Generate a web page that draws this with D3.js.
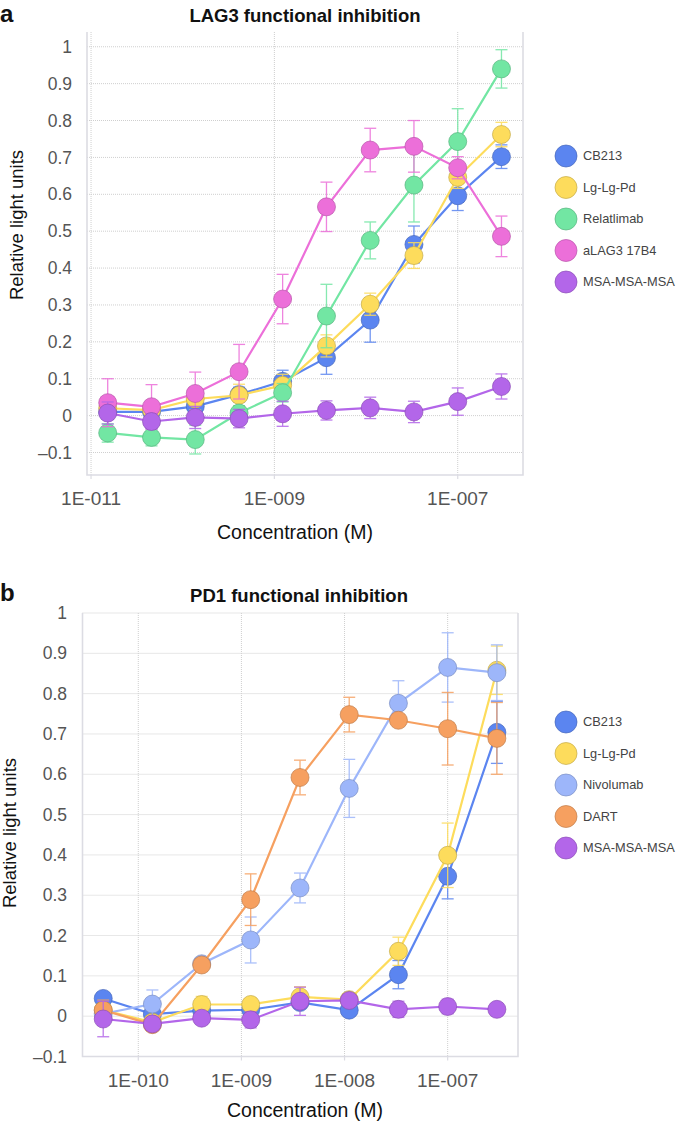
<!DOCTYPE html>
<html>
<head>
<meta charset="utf-8">
<script src="https://cdn.jsdelivr.net/npm/d3@7"></script>
<style>
  body { margin: 0; background: #fff; }
  svg { font-family: "Liberation Sans", Arial, sans-serif; }
</style>
</head>
<body>
<svg width="685" height="1121"></svg>
<script>
/* concentrations (M) */
let concA = [1.52e-11, 4.57e-11, 1.37e-10, 4.12e-10, 1.23e-9, 3.70e-9, 1.11e-8, 3.33e-8, 1.0e-7, 3.0e-7];
let concB = [4.57e-11, 1.37e-10, 4.12e-10, 1.23e-9, 3.70e-9, 1.11e-8, 3.33e-8, 1.0e-7, 3.0e-7];

/* panel a - LAG3 */
let namesA = ["CB213", "Lg-Lg-Pd", "Relatlimab", "aLAG3 17B4", "MSA-MSA-MSA"];
let colorsA = ["#5b85f0", "#fddc5c", "#72e6a3", "#ec6fd9", "#b366e9"];
let cb213A = [0.01, 0.01, 0.025, 0.057, 0.093, 0.157, 0.259, 0.464, 0.596, 0.702];
let cb213AErr = [0.02, 0.02, 0.02, 0.02, 0.03, 0.045, 0.06, 0.05, 0.04, 0.032];
let lgA = [0.02, 0.015, 0.045, 0.055, 0.082, 0.189, 0.302, 0.434, 0.646, 0.762];
let lgAErr = [0.02, 0.02, 0.03, 0.03, 0.03, 0.03, 0.03, 0.035, 0.03, 0.033];
let relatA = [-0.047, -0.059, -0.065, 0.007, 0.062, 0.27, 0.475, 0.625, 0.743, 0.94];
let relatAErr = [0.025, 0.023, 0.039, 0.02, 0.025, 0.086, 0.05, 0.1, 0.089, 0.052];
let alag3A = [0.035, 0.024, 0.06, 0.119, 0.316, 0.566, 0.72, 0.73, 0.672, 0.486];
let alag3AErr = [0.065, 0.06, 0.058, 0.074, 0.067, 0.067, 0.059, 0.07, 0.03, 0.055];
let msaA = [0.007, -0.016, -0.005, -0.008, 0.005, 0.014, 0.021, 0.01, 0.038, 0.079];
let msaAErr = [0.03, 0.02, 0.03, 0.025, 0.034, 0.026, 0.029, 0.029, 0.037, 0.034];
let xTicksA = [1e-11, 1e-9, 1e-7];
let xTickLabelsA = ["1E-011", "1E-009", "1E-007"];

/* panel b - PD1 */
let namesB = ["CB213", "Lg-Lg-Pd", "Nivolumab", "DART", "MSA-MSA-MSA"];
let colorsB = ["#5b85f0", "#fddc5c", "#9db6fa", "#f6a060", "#b366e9"];
let cb213B = [0.044, 0.005, 0.014, 0.016, 0.034, 0.015, 0.103, 0.347, 0.704];
let cb213BErr = [0.01, 0.01, 0.01, 0.01, 0.01, 0.01, 0.035, 0.056, 0.077];
let lgB = [0.015, -0.015, 0.029, 0.029, 0.048, 0.041, 0.161, 0.399, 0.858];
let lgBErr = [0.01, 0.01, 0.02, 0.015, 0.025, 0.01, 0.035, 0.08, 0.06];
let nivoB = [0.006, 0.03, 0.13, 0.189, 0.318, 0.565, 0.776, 0.865, 0.852];
let nivoBErr = [0.01, 0.035, 0.01, 0.057, 0.037, 0.072, 0.056, 0.086, 0.069];
let dartB = [0.015, -0.021, 0.127, 0.289, 0.592, 0.748, 0.734, 0.713, 0.689];
let dartBErr = [0.025, 0.015, 0.01, 0.064, 0.043, 0.043, 0.01, 0.09, 0.089];
let msaB = [-0.007, -0.019, -0.005, -0.009, 0.037, 0.039, 0.017, 0.024, 0.017];
let msaBErr = [0.044, 0.015, 0.015, 0.02, 0.035, 0.01, 0.02, 0.018, 0.015];
let xTicksB = [1e-10, 1e-9, 1e-8, 1e-7];
let xTickLabelsB = ["1E-010", "1E-009", "1E-008", "1E-007"];

let yTicks = [-0.1, 0, 0.1, 0.2, 0.3, 0.4, 0.5, 0.6, 0.7, 0.8, 0.9, 1];

let svg = d3.select("svg");

function draw_panel(cfg) {
    let x = d3.scaleLog().domain(cfg.xDomain).range([cfg.left, cfg.right]);
    let y = d3.scaleLinear().domain(cfg.yDomain).range([cfg.bottom, cfg.top]);
    let g = svg.append("g");

    // panel letter + title
    g.append("text").attr("x", 0).attr("y", cfg.letterY).attr("font-size", 24)
        .attr("font-weight", "bold").attr("fill", "#111").text(cfg.letter);
    g.append("text").attr("x", cfg.titleX).attr("y", cfg.titleY).attr("text-anchor", "middle")
        .attr("font-size", 18.5).attr("font-weight", "bold").attr("fill", "#111").text(cfg.title);

    // horizontal grid
    g.selectAll("line.hgrid").data(yTicks).enter().append("line")
        .attr("x1", cfg.left).attr("x2", cfg.right)
        .attr("y1", d => y(d)).attr("y2", d => y(d))
        .attr("stroke", "#cfcfcf").attr("stroke-dasharray", "1,1").attr("stroke-width", 1);
    // vertical grid
    g.selectAll("line.vgrid").data(cfg.xTicks).enter().append("line")
        .attr("x1", d => x(d)).attr("x2", d => x(d))
        .attr("y1", cfg.top).attr("y2", cfg.bottom)
        .attr("stroke", "#cfcfcf").attr("stroke-dasharray", "1,1").attr("stroke-width", 1);

    // frame (left, bottom, right)
    g.append("path")
        .attr("d", `M${cfg.left},${cfg.top}V${cfg.bottom}H${cfg.right}V${cfg.top}`)
        .attr("fill", "none").attr("stroke", "#dcdce3").attr("stroke-width", 1.6);

    // x tick marks and labels
    g.selectAll("line.xt").data(cfg.xTicks).enter().append("line")
        .attr("x1", d => x(d)).attr("x2", d => x(d))
        .attr("y1", cfg.bottom).attr("y2", cfg.bottom + 4)
        .attr("stroke", "#dcdce3").attr("stroke-width", 1.2);
    g.selectAll("text.xt").data(cfg.xTicks).enter().append("text")
        .attr("x", d => x(d)).attr("y", cfg.bottom + 30)
        .attr("text-anchor", "middle").attr("font-size", 19).attr("fill", "#555")
        .text((d, i) => cfg.xTickLabels[i]);

    // y tick labels
    g.selectAll("text.yt").data(yTicks).enter().append("text")
        .attr("x", cfg.yLabelX).attr("y", d => y(d)).attr("dy", "0.35em")
        .attr("text-anchor", "end").attr("font-size", 17.5).attr("fill", "#555")
        .text(d => d === 0 ? "0" : (d < 0 ? "\u2013" + Math.abs(d) : d3.format(".1~f")(d)));

    // axis titles
    g.append("text").attr("transform", `translate(${cfg.yTitleX},${cfg.yTitleY}) rotate(-90)`)
        .attr("text-anchor", "middle").attr("font-size", 18.5).attr("fill", "#111")
        .text("Relative light units");
    g.append("text").attr("x", cfg.xTitleX).attr("y", cfg.xTitleY)
        .attr("text-anchor", "middle").attr("font-size", 19.5).attr("fill", "#111")
        .text("Concentration (M)");

    let line = d3.line().x(d => x(d.c)).y(d => y(d.v));

    cfg.series.forEach(function (s) {
        let pts = cfg.conc.map((c, i) => ({c: c, v: s.values[i], e: s.errs[i]}));
        let sg = g.append("g");
        // error bars
        let eb = sg.selectAll("g.eb").data(pts).enter().append("g")
            .attr("stroke", s.color).attr("stroke-width", 1.3).attr("opacity", 0.85);
        eb.append("line").attr("x1", d => x(d.c)).attr("x2", d => x(d.c))
            .attr("y1", d => y(d.v - d.e)).attr("y2", d => y(d.v + d.e));
        eb.append("line").attr("x1", d => x(d.c) - 6).attr("x2", d => x(d.c) + 6)
            .attr("y1", d => y(d.v + d.e)).attr("y2", d => y(d.v + d.e));
        eb.append("line").attr("x1", d => x(d.c) - 6).attr("x2", d => x(d.c) + 6)
            .attr("y1", d => y(d.v - d.e)).attr("y2", d => y(d.v - d.e));
        // line
        sg.append("path").datum(pts).attr("d", line)
            .attr("fill", "none").attr("stroke", s.color).attr("stroke-width", 2.2);
        // points
        sg.selectAll("circle").data(pts).enter().append("circle")
            .attr("cx", d => x(d.c)).attr("cy", d => y(d.v)).attr("r", 9)
            .attr("fill", s.color)
            .attr("stroke", d3.color(s.color).darker(0.7)).attr("stroke-opacity", 0.7)
            .attr("stroke-width", 1);
    });

    // legend
    let lg = g.selectAll("g.legend").data(cfg.series).enter().append("g")
        .attr("transform", (d, i) => `translate(${cfg.legendX},${cfg.legendY + i * 31.5})`);
    lg.append("circle").attr("r", 11).attr("fill", d => d.color)
        .attr("stroke", d => d3.color(d.color).darker(0.7)).attr("stroke-opacity", 0.7);
    lg.append("text").attr("x", 17).attr("dy", "0.35em").attr("font-size", 12.8)
        .attr("fill", "#444").text(d => d.name);
}

draw_panel({
    letter: "a", letterY: 22, title: "LAG3 functional inhibition", titleX: 305, titleY: 22,
    left: 87, right: 523, top: 32, bottom: 475,
    xDomain: [Math.pow(10, -11.044), Math.pow(10, -6.288)], yDomain: [-0.161, 1.04],
    xTicks: xTicksA, xTickLabels: xTickLabelsA, conc: concA,
    yLabelX: 72, yTitleX: 23, yTitleY: 225, xTitleX: 295, xTitleY: 539,
    legendX: 566, legendY: 156,
    series: [
        {name: namesA[0], color: colorsA[0], values: cb213A, errs: cb213AErr},
        {name: namesA[1], color: colorsA[1], values: lgA, errs: lgAErr},
        {name: namesA[2], color: colorsA[2], values: relatA, errs: relatAErr},
        {name: namesA[3], color: colorsA[3], values: alag3A, errs: alag3AErr},
        {name: namesA[4], color: colorsA[4], values: msaA, errs: msaAErr}
    ]
});

draw_panel({
    letter: "b", letterY: 601, title: "PD1 functional inhibition", titleX: 299, titleY: 602,
    left: 82.5, right: 518, top: 613, bottom: 1056.5,
    xDomain: [Math.pow(10, -10.541), Math.pow(10, -6.318)], yDomain: [-0.1, 1],
    xTicks: xTicksB, xTickLabels: xTickLabelsB, conc: concB,
    yLabelX: 67, yTitleX: 16, yTitleY: 833, xTitleX: 305, xTitleY: 1117,
    legendX: 566, legendY: 722,
    series: [
        {name: namesB[0], color: colorsB[0], values: cb213B, errs: cb213BErr},
        {name: namesB[1], color: colorsB[1], values: lgB, errs: lgBErr},
        {name: namesB[2], color: colorsB[2], values: nivoB, errs: nivoBErr},
        {name: namesB[3], color: colorsB[3], values: dartB, errs: dartBErr},
        {name: namesB[4], color: colorsB[4], values: msaB, errs: msaBErr}
    ]
});
</script>
</body>
</html>
